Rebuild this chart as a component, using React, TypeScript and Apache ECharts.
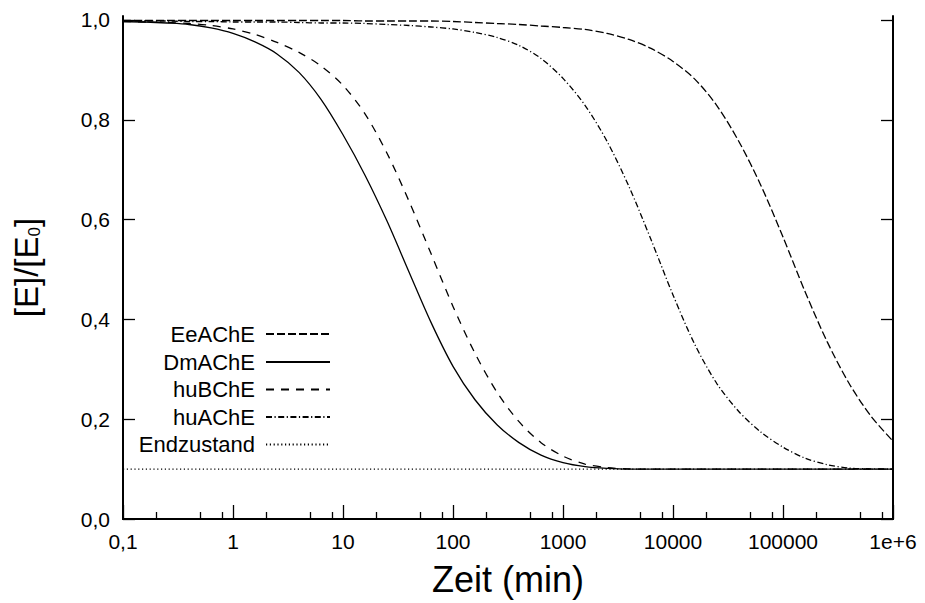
import { useEffect, useRef } from 'react';
import * as echarts from 'echarts';

const FONT = '"Liberation Sans", Arial, Helvetica, sans-serif';

// Axis ticks (time axis is logarithmic, minutes)
const xTickValues = [0.1, 1, 10, 100, 1000, 10000, 100000, 1000000];
const xTickLabels = ['0,1', '1', '10', '100', '1000', '10000', '100000', '1e+6'];
const xMinorTickValues = [
  0.2, 0.5, 0.8, 2, 5, 8, 20, 50, 80, 200, 500, 800, 2000, 5000, 8000,
  20000, 50000, 80000, 200000, 500000, 800000,
];
const yTickValues = [0, 0.2, 0.4, 0.6, 0.8, 1.0];

// Sampling times (min), five samples per decade
const time = [
  0.1, 0.1585, 0.2512, 0.3981, 0.631, 1, 1.585, 2.512, 3.981, 6.31,
  10, 15.85, 25.12, 39.81, 63.1, 100, 158.5, 251.2, 398.1, 631,
  1000, 1585, 2512, 3981, 6310, 10000, 15849, 25119, 39811, 63096,
  100000, 158489, 251189, 398107, 630957, 1000000,
];

// Remaining active enzyme fraction [E]/[E0] at each sampling time
const eeValue = [
  0.999, 0.999, 0.999, 0.999, 0.999, 0.999, 0.999, 0.999, 0.999, 0.999,
  0.999, 0.998, 0.998, 0.998, 0.998, 0.997, 0.995, 0.993, 0.991, 0.988,
  0.985, 0.981, 0.973, 0.961, 0.943, 0.917, 0.881, 0.828, 0.756, 0.668,
  0.565, 0.456, 0.356, 0.272, 0.206, 0.156,
];
const dmValue = [
  0.997, 0.996, 0.994, 0.991, 0.984, 0.973, 0.956, 0.932, 0.895, 0.841,
  0.77, 0.689, 0.597, 0.495, 0.394, 0.306, 0.239, 0.189, 0.153, 0.128,
  0.113, 0.105, 0.1015, 0.1, 0.1, 0.1, 0.1, 0.1, 0.1, 0.1,
  0.1, 0.1, 0.1, 0.1, 0.1, 0.1,
];
const hubValue = [
  0.997, 0.996, 0.995, 0.993, 0.989, 0.982, 0.971, 0.955, 0.935, 0.908,
  0.869, 0.812, 0.733, 0.637, 0.532, 0.426, 0.332, 0.254, 0.195, 0.153,
  0.126, 0.11, 0.103, 0.1005, 0.1, 0.1, 0.1, 0.1, 0.1, 0.1,
  0.1, 0.1, 0.1, 0.1, 0.1, 0.1,
];
const huaValue = [
  0.998, 0.998, 0.998, 0.997, 0.997, 0.996, 0.996, 0.996, 0.995, 0.994,
  0.994, 0.993, 0.991, 0.989, 0.986, 0.982, 0.975, 0.965, 0.949, 0.923,
  0.883, 0.829, 0.757, 0.666, 0.56, 0.449, 0.349, 0.271, 0.215, 0.174,
  0.144, 0.122, 0.109, 0.102, 0.1005, 0.1,
];

// Final state plateau
const endTime = [0.1, 1000000];
const endValue = [0.1, 0.1];

const seriesNames = ['EeAChE', 'DmAChE', 'huBChE', 'huAChE', 'Endzustand'];

const zip = (xs: number[], ys: number[]) => xs.map((x, i) => [x, ys[i]]);

const xLabel = (v: number) => {
  const i = xTickValues.findIndex((t) => Math.abs(Math.log10(t) - Math.log10(v)) < 1e-6);
  return i >= 0 ? xTickLabels[i] : '';
};

export default function App() {
  const ref = useRef<HTMLDivElement>(null);

  useEffect(() => {
    if (!ref.current) return;
    const chart = echarts.init(ref.current, undefined, { renderer: 'svg' });

    const black = '#000';
    const lineW = 1.3;
    const dash: Record<string, any> = {
      EeAChE: [8, 3],
      DmAChE: 'solid',
      huBChE: [8, 7],
      huAChE: [6, 2.5, 1.2, 2.5],
      Endzustand: [1.2, 2.6],
    };
    const dataSets: Record<string, number[][]> = {
      EeAChE: zip(time, eeValue),
      DmAChE: zip(time, dmValue),
      huBChE: zip(time, hubValue),
      huAChE: zip(time, huaValue),
      Endzustand: zip(endTime, endValue),
    };

    const legendRight = 925 - 331;
    const legendTops = [323, 351, 378.5, 406, 433.5];

    chart.setOption({
      animation: false,
      backgroundColor: '#fff',
      grid: { left: 123, right: 32, top: 16, bottom: 84, containLabel: false },
      legend: seriesNames.map((n, i) => ({
        data: [n],
        right: legendRight,
        top: legendTops[i],
        align: 'right',
        orient: 'vertical',
        itemWidth: 64,
        itemHeight: 14,
        padding: 0,
        selectedMode: false,
        itemStyle: { opacity: 0 },
        textStyle: { fontSize: 22, color: black, fontFamily: FONT, padding: [0, 6, 0, 0] },
      })),
      xAxis: [
        {
          type: 'log',
          logBase: 10,
          min: 0.1,
          max: 1000000,
          position: 'bottom',
          axisLine: { show: true, onZero: false, lineStyle: { color: black, width: 2 } },
          axisTick: { show: true, inside: true, length: 14, customValues: xTickValues, lineStyle: { color: black, width: lineW } },
          axisLabel: { customValues: xTickValues, formatter: xLabel, fontSize: 21, color: black, margin: 12, fontFamily: FONT },
          splitLine: { show: false },
          name: 'Zeit (min)',
          nameLocation: 'middle',
          nameGap: 42,
          nameTextStyle: { fontSize: 36, color: black, fontFamily: FONT },
        },
        {
          type: 'log',
          logBase: 10,
          min: 0.1,
          max: 1000000,
          position: 'bottom',
          axisLine: { show: false },
          axisTick: { show: true, inside: true, length: 7, customValues: xMinorTickValues, lineStyle: { color: black, width: lineW } },
          axisLabel: { show: false },
          splitLine: { show: false },
        },
        {
          type: 'log',
          logBase: 10,
          min: 0.1,
          max: 1000000,
          position: 'top',
          axisLine: { show: true, lineStyle: { color: black, width: 2 } },
          axisTick: { show: false },
          axisLabel: { show: false },
          splitLine: { show: false },
        },
      ],
      yAxis: [
        {
          type: 'value',
          min: 0,
          max: 1.008,
          position: 'left',
          axisLine: { show: true, onZero: false, lineStyle: { color: black, width: 2 } },
          axisTick: { show: true, inside: true, length: 12, customValues: yTickValues, lineStyle: { color: black, width: lineW } },
          axisLabel: {
            customValues: yTickValues,
            formatter: (v: number) => v.toFixed(1).replace('.', ','),
            fontSize: 21,
            color: black,
            margin: 13,
            fontFamily: FONT,
          },
          splitLine: { show: false },
          name: '[E]/[E{sub|0}]',
          nameLocation: 'middle',
          nameGap: 80,
          nameRotate: 90,
          nameTextStyle: {
            fontSize: 33,
            color: black,
            fontFamily: FONT,
            rich: { sub: { fontSize: 17, color: black, fontFamily: FONT, verticalAlign: 'bottom', lineHeight: 33 } },
          },
        },
        {
          type: 'value',
          min: 0,
          max: 1.008,
          position: 'right',
          axisLine: { show: true, onZero: false, lineStyle: { color: black, width: 2 } },
          axisTick: { show: true, inside: true, length: 12, customValues: yTickValues, lineStyle: { color: black, width: lineW } },
          axisLabel: { show: false },
          splitLine: { show: false },
        },
      ],
      series: seriesNames.map((n) => ({
        name: n,
        type: 'line',
        xAxisIndex: 0,
        yAxisIndex: 0,
        data: dataSets[n],
        symbol: 'none',
        showSymbol: false,
        smooth: n === 'Endzustand' ? false : 0.3,
        color: black,
        lineStyle: { color: black, width: n === 'Endzustand' ? 1.2 : lineW, type: dash[n] },
        z: n === 'Endzustand' ? 1 : 2,
      })),
    });

    return () => chart.dispose();
  }, []);

  return (
    <div
      ref={ref}
      style={{ position: 'fixed', left: 0, top: 0, width: 925, height: 603, background: '#fff' }}
    />
  );
}
